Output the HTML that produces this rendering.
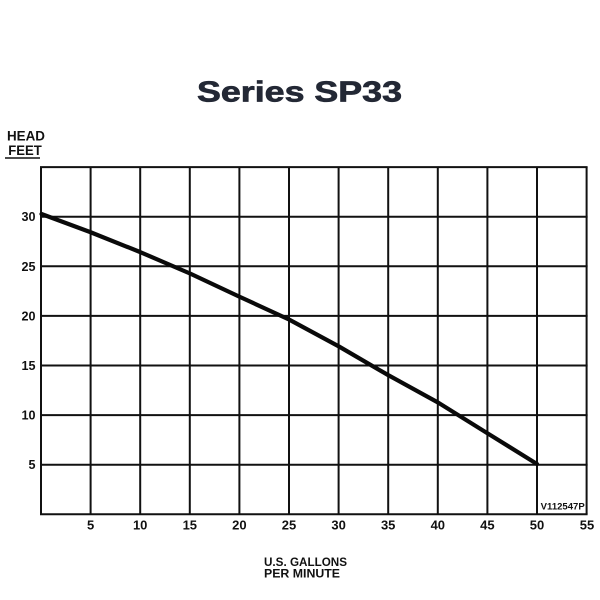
<!DOCTYPE html>
<html><head><meta charset="utf-8"><style>
html,body{margin:0;padding:0;background:#fff;}
svg{display:block;}
text{font-family:"Liberation Sans",Arial,sans-serif;font-weight:bold;}
</style></head><body>
<svg width="600" height="600" viewBox="0 0 600 600" xmlns="http://www.w3.org/2000/svg">
<rect width="600" height="600" fill="#fff"/>
<text x="197" y="101.5" font-size="29" fill="#232835" stroke="#232835" stroke-width="0.7" textLength="205" lengthAdjust="spacingAndGlyphs">Series SP33</text>
<text x="7" y="140.7" font-size="13.5" fill="#111" textLength="38" lengthAdjust="spacingAndGlyphs">HEAD</text>
<text x="8.3" y="155" font-size="13.5" fill="#111" textLength="33.5" lengthAdjust="spacingAndGlyphs">FEET</text>
<line x1="5" y1="158" x2="40" y2="158" stroke="#111" stroke-width="1.5"/>
<g stroke="#111" stroke-width="2" fill="none">
<line x1="41" y1="167.1" x2="41" y2="514.3"/>
<line x1="90.6" y1="167.1" x2="90.6" y2="514.3"/>
<line x1="140.2" y1="167.1" x2="140.2" y2="514.3"/>
<line x1="189.8" y1="167.1" x2="189.8" y2="514.3"/>
<line x1="239.4" y1="167.1" x2="239.4" y2="514.3"/>
<line x1="289" y1="167.1" x2="289" y2="514.3"/>
<line x1="338.6" y1="167.1" x2="338.6" y2="514.3"/>
<line x1="388.2" y1="167.1" x2="388.2" y2="514.3"/>
<line x1="437.8" y1="167.1" x2="437.8" y2="514.3"/>
<line x1="487.4" y1="167.1" x2="487.4" y2="514.3"/>
<line x1="537" y1="167.1" x2="537" y2="514.3"/>
<line x1="586.6" y1="167.1" x2="586.6" y2="514.3"/>
<line x1="40" y1="167.1" x2="587.6" y2="167.1"/>
<line x1="40" y1="216.7" x2="587.6" y2="216.7"/>
<line x1="40" y1="266.3" x2="587.6" y2="266.3"/>
<line x1="40" y1="315.9" x2="587.6" y2="315.9"/>
<line x1="40" y1="365.5" x2="587.6" y2="365.5"/>
<line x1="40" y1="415.1" x2="587.6" y2="415.1"/>
<line x1="40" y1="464.7" x2="587.6" y2="464.7"/>
<line x1="40" y1="514.3" x2="587.6" y2="514.3"/>
</g>
<polyline points="41.5,214 90,232 140,252 190,273.5 239,296.5 289,319.5 339,346.5 388,375 438,402.5 487,433 537,464" fill="none" stroke="#0a0a0a" stroke-width="4.2" stroke-linejoin="round" stroke-linecap="round"/>
<g font-size="12.6" fill="#111" text-anchor="end">
<text x="35.5" y="221.2">30</text>
<text x="35.5" y="270.8">25</text>
<text x="35.5" y="320.4">20</text>
<text x="35.5" y="370">15</text>
<text x="35.5" y="419.6">10</text>
<text x="35.5" y="469.2">5</text>
</g>
<g font-size="13" fill="#111" text-anchor="middle">
<text x="90.6" y="529.5">5</text>
<text x="140.2" y="529.5">10</text>
<text x="189.8" y="529.5">15</text>
<text x="239.4" y="529.5">20</text>
<text x="289" y="529.5">25</text>
<text x="338.6" y="529.5">30</text>
<text x="388.2" y="529.5">35</text>
<text x="437.8" y="529.5">40</text>
<text x="487.4" y="529.5">45</text>
<text x="537" y="529.5">50</text>
<text x="587" y="529.5">55</text>
</g>
<text x="540.7" y="509.3" font-size="9" fill="#111" textLength="44" lengthAdjust="spacingAndGlyphs">V112547P</text>
<text x="264" y="566" font-size="12" fill="#111" textLength="83" lengthAdjust="spacingAndGlyphs">U.S. GALLONS</text>
<text x="264" y="577.7" font-size="12" fill="#111" textLength="76" lengthAdjust="spacingAndGlyphs">PER MINUTE</text>
</svg>
</body></html>
